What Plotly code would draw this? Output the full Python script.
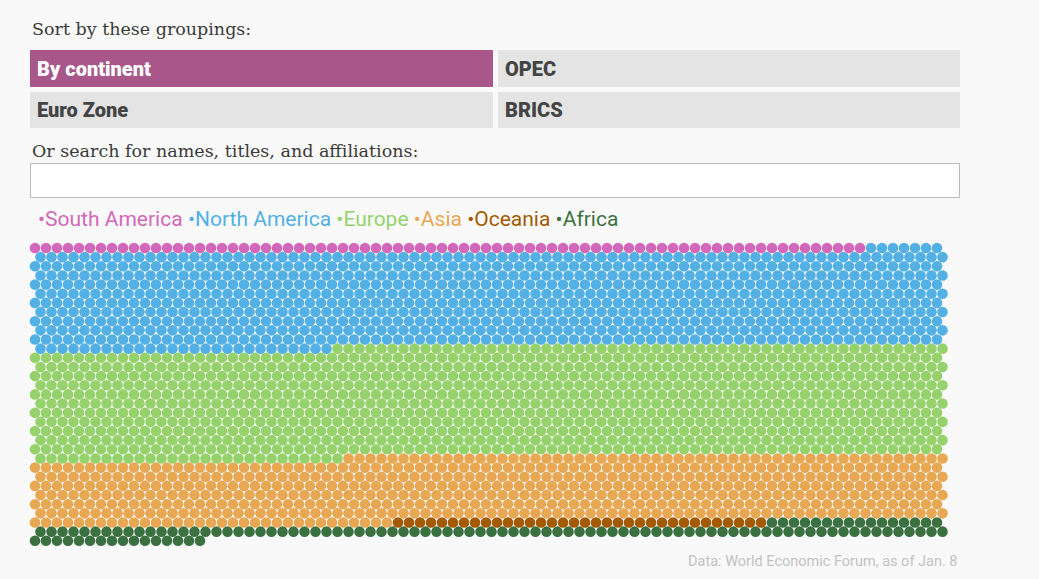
import plotly.graph_objects as go

# ---- data ----
continents = ["South America", "North America", "Europe", "Asia", "Oceania", "Africa"]
participants = [76, 864, 997, 586, 34, 115]
colors = ["#d267bb", "#52b0e4", "#96d26b", "#e8a752", "#a35a00", "#3b7141"]
groupings = ["By continent", "OPEC", "Euro Zone", "BRICS"]
active_grouping = "By continent"
prompt_sort = "Sort by these groupings:"
prompt_search = "Or search for names, titles, and affiliations:"
source = "Data: World Economic Forum, as of Jan. 8"

# ---- layout constants (pixels) ----
W, H = 1039, 579
BG = "#f9f9f9"
PER_ROW = 83
X0, DX = 35, 11
Y0, DY = 248, 9.15

fig = go.Figure()

idx = 0
for name, n, col in zip(continents, participants, colors):
    xs, ys = [], []
    for k in range(idx, idx + n):
        r, c = divmod(k, PER_ROW)
        xs.append(X0 + c * DX + (DX / 2 if r % 2 else 0))
        ys.append(Y0 + r * DY)
    idx += n
    fig.add_trace(go.Scatter(
        x=xs, y=ys, mode="markers", name=name,
        marker=dict(size=10.6, color=col, line=dict(width=0)),
        hoverinfo="name", showlegend=False,
    ))

shapes = []
annotations = []

# prompt texts
annotations.append(dict(x=30, y=29, text=prompt_sort, xanchor="left", yanchor="middle",
                        showarrow=False, font=dict(family="DejaVu Serif", size=17.5, color="#3a3a3a")))
annotations.append(dict(x=30, y=151, text=prompt_search, xanchor="left", yanchor="middle",
                        showarrow=False, font=dict(family="DejaVu Serif", size=17.5, color="#3a3a3a")))

# buttons
boxes = [(30, 50, 493, 87), (498, 50, 960, 87), (30, 92, 493, 128), (498, 92, 960, 128)]
for label, (x0, y0, x1, y1) in zip(groupings, boxes):
    active = label == active_grouping
    shapes.append(dict(type="rect", xref="x", yref="y", x0=x0, y0=y0, x1=x1, y1=y1,
                       fillcolor="#a9578a" if active else "#e4e4e4", line=dict(width=0), layer="below"))
    annotations.append(dict(x=x0 + 5, y=(y0 + y1) / 2, text=label, xanchor="left", yanchor="middle",
                            showarrow=False,
                            font=dict(family="Roboto", size=20, weight=900,
                                      color="#ffffff" if active else "#444444")))

# search box
shapes.append(dict(type="rect", xref="x", yref="y", x0=30.5, y0=163.5, x1=959.5, y1=197.5,
                   fillcolor="#ffffff", line=dict(width=1, color="#bbbbbb"), layer="below"))

# legend
legend_html = "&nbsp;".join(
    f"<span style='color:{c}'>•{n}</span>" for n, c in zip(continents, colors)
)
annotations.append(dict(x=36, y=219, text=legend_html, xanchor="left", yanchor="middle",
                        showarrow=False, font=dict(family="Roboto", size=21)))

# source
annotations.append(dict(x=960, y=561, text=source, xanchor="right", yanchor="middle",
                        showarrow=False, font=dict(family="Roboto", size=14.5, color="#c2c2c2")))

fig.update_layout(
    width=W, height=H, margin=dict(l=0, r=0, t=0, b=0),
    paper_bgcolor=BG, plot_bgcolor=BG,
    xaxis=dict(range=[0, W], visible=False, fixedrange=True),
    yaxis=dict(range=[H, 0], visible=False, fixedrange=True),
    shapes=shapes, annotations=annotations,
)

fig.write_html(
    "out.html",
    config={"displayModeBar": False},
    post_script="document.body.style.margin='0';document.body.style.background='#f9f9f9';document.body.style.overflow='hidden';",
)
